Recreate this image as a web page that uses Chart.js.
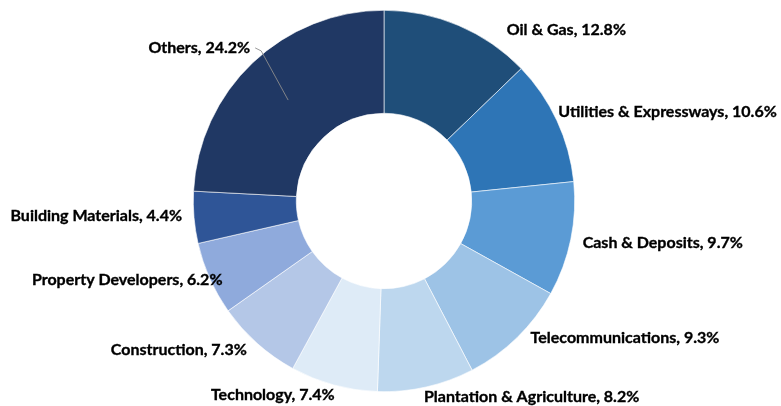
<!DOCTYPE html>
<html>
<head>
<meta charset="utf-8">
<script src="https://cdn.jsdelivr.net/npm/chart.js@4.4.1/dist/chart.umd.min.js"></script>
<style>
html,body{margin:0;padding:0;background:#fff;}
#wrap{width:781px;height:406px;position:relative;}
</style>
</head>
<body>
<div id="wrap"><canvas id="c"></canvas></div>
<script>
const categories = ["Oil & Gas","Utilities & Expressways","Cash & Deposits","Telecommunications","Plantation & Agriculture","Technology","Construction","Property Developers","Building Materials","Others"];
const weights = [12.8,10.6,9.7,9.3,8.2,7.4,7.3,6.2,4.4,24.2];
const colors = ["#1F4E79","#2E75B6","#5B9BD5","#9DC3E6","#BDD7EE","#DEEBF7","#B4C7E7","#8FAADC","#2F5597","#203864"];
// label nudges (px) relative to the outer anchor point of each slice
const labelNudge = [[45,12],[-6,-5],[4,2],[8,-6],[-4,2],[3,2],[-5,1],[20,-2],[-4,-2],[3,-9]];
const leaderIndex = 9;

const labelPlugin = {
  id:'outLabels',
  afterDatasetsDraw(chart){
    const ctx = chart.ctx;
    const meta = chart.getDatasetMeta(0);
    ctx.save();
    ctx.font = 'bold 16px Lato, "Open Sans", sans-serif';
    ctx.fillStyle = '#000';
    ctx.strokeStyle = '#000';
    ctx.textBaseline = 'middle';
    meta.data.forEach((arc,i)=>{
      const p = arc.getProps(['x','y','startAngle','endAngle','outerRadius','innerRadius'],true);
      const mid = (p.startAngle+p.endAngle)/2;
      const r = p.outerRadius + 8;
      const ax = p.x + Math.cos(mid)*r;
      const ay = p.y + Math.sin(mid)*r;
      const right = Math.cos(mid) >= 0;
      const tx = ax + labelNudge[i][0];
      const ty = ay + labelNudge[i][1];
      const txt = categories[i] + ', ' + weights[i].toFixed(1) + '%';
      ctx.textAlign = right ? 'left' : 'right';
      ctx.lineWidth = 0.35;
      ctx.strokeStyle = '#000';
      ctx.fillText(txt, tx, ty);
      ctx.strokeText(txt, tx, ty);
      if(i===leaderIndex){
        const rm = (p.outerRadius + p.innerRadius)/2;
        const mx = p.x + Math.cos(mid)*rm;
        const my = p.y + Math.sin(mid)*rm;
        ctx.strokeStyle = '#8c8c8c';
        ctx.lineWidth = 0.9;
        ctx.beginPath();
        ctx.moveTo(mx,my);
        ctx.lineTo(tx+11, ty+3);
        ctx.lineTo(tx+5, ty);
        ctx.stroke();
      }
    });
    ctx.restore();
  }
};

new Chart(document.getElementById('c'),{
  type:'doughnut',
  data:{
    labels:categories,
    datasets:[{
      data:weights,
      backgroundColor:colors,
      borderColor:'#ffffff',
      borderWidth:0.6
    }]
  },
  options:{
    responsive:true,
    maintainAspectRatio:false,
    animation:false,
    cutout:'46%',
    layout:{padding:{left:0,right:13,top:10,bottom:14}},
    plugins:{legend:{display:false},tooltip:{enabled:false}}
  },
  plugins:[labelPlugin]
});
</script>
</body>
</html>
